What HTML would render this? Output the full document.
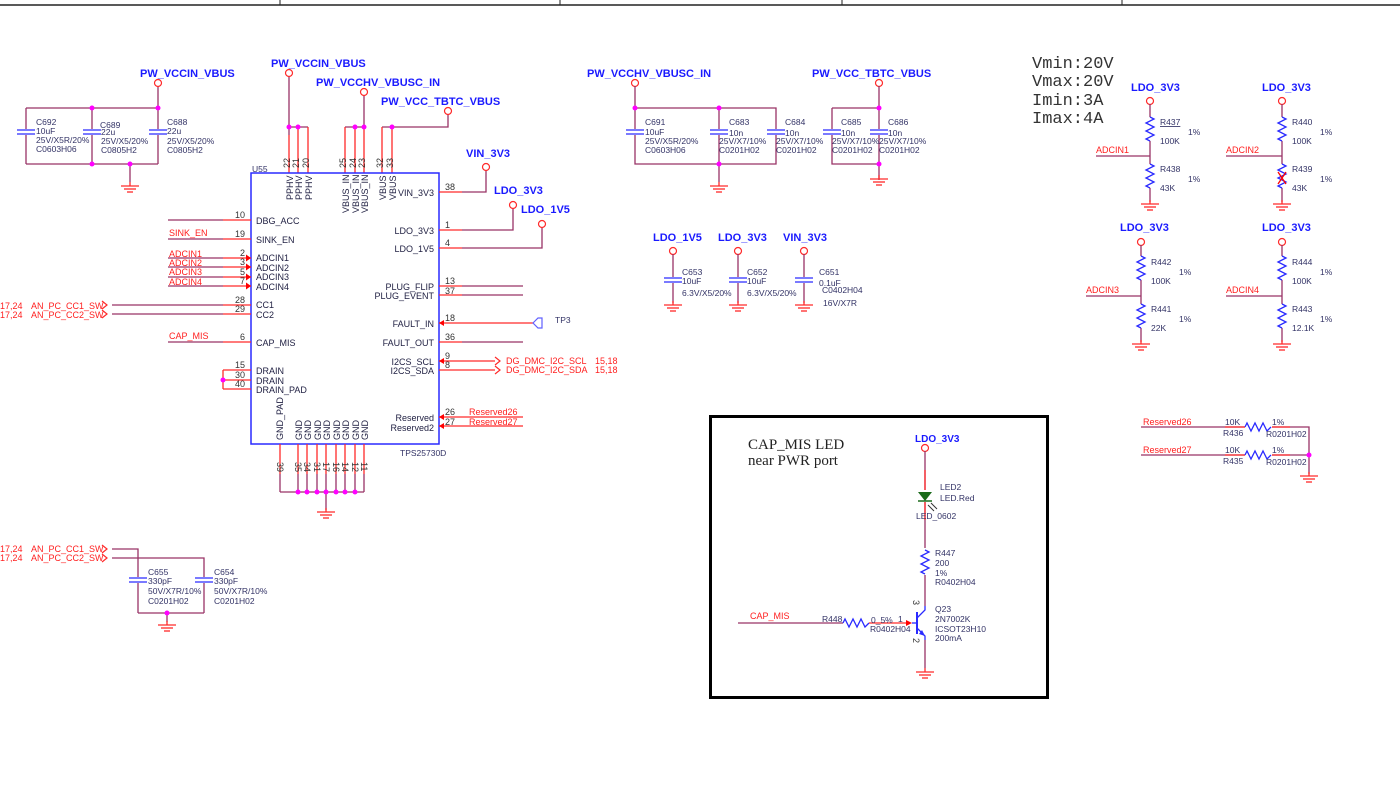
<!DOCTYPE html>
<html><head><meta charset="utf-8"><style>
html,body{margin:0;padding:0;background:#fff;}
svg{display:block;}
text{font-family:"Liberation Sans",sans-serif;}
text.mono{font-family:"Liberation Mono",monospace;font-size:17px;fill:#333;}
text.serif{font-family:"Liberation Serif",serif;font-size:15px;fill:#222;}
.c{font-size:8.5px;fill:#333366;}
.n{font-size:11px;font-weight:bold;fill:#1a1aff;}
.r{font-size:9px;fill:#ff2020;}
.p{font-size:9px;fill:#222244;}
.pn{font-size:9px;fill:#333333;}
.w{stroke:#993366;stroke-width:1.3;fill:none;}
.s{stroke:#ff2a2a;stroke-width:1.3;fill:none;}
.b{stroke:#2a2aff;stroke-width:1.3;fill:none;}
</style></head><body>
<svg width="1400" height="807" viewBox="0 0 1400 807" xmlns="http://www.w3.org/2000/svg">
<defs>
<g id="gnd" class="s"><line x1="0" y1="0" x2="0" y2="4"/><line x1="-9" y1="4" x2="9" y2="4"/><line x1="-6" y1="7" x2="6" y2="7"/><line x1="-3" y1="10" x2="3" y2="10"/></g>
<g id="cap"><rect x="-9" y="-3" width="18" height="6" fill="#fff"/><line x1="-9" y1="-2" x2="9" y2="-2" class="b"/><line x1="-9" y1="2" x2="9" y2="2" class="b"/></g>
<g id="rz"><rect x="-5" y="0" width="10" height="24" fill="#fff"/><polyline class="b" points="0,0 4,2 -4,6 4,10 -4,14 4,18 -4,22 0,24"/></g>
<g id="rh"><rect x="0" y="-5" width="26" height="10" fill="#fff"/><polyline class="b" points="0,0 2,-4 6,4 10,-4 14,4 18,-4 22,4 26,0"/></g>
<circle id="oc" r="3.5" fill="#fff" stroke="#ff2a2a" stroke-width="1.2"/>
<circle id="dt" r="2.5" fill="#ff00ff"/>
<polygon id="ar" points="0,0 -5,-3.5 -5,3.5" fill="#ff0000"/>
<polyline id="chev" points="0,-4 5,0 0,4 M4,-4 9,0 4,4" stroke="#ff2a2a" stroke-width="1.2" fill="none"/>
</defs>

<!-- top border -->
<line x1="0" y1="5" x2="1400" y2="5" stroke="#222" stroke-width="1.5"/>
<g stroke="#222" stroke-width="1"><line x1="280" y1="0" x2="280" y2="5"/><line x1="560" y1="0" x2="560" y2="5"/><line x1="842" y1="0" x2="842" y2="5"/><line x1="1122" y1="0" x2="1122" y2="5"/></g>

<!-- left caps C692/C689/C688 -->
<text x="140" y="77" class="n">PW_VCCIN_VBUS</text>
<path class="w" d="M158 86V108M26 108H158M26 164H158M26 108V164M92 108V164M158 108V164M130 164V182"/>
<use href="#oc" x="158" y="83"/>
<use href="#cap" x="26" y="132"/><use href="#cap" x="92" y="132"/><use href="#cap" x="158" y="132"/>
<use href="#dt" x="92" y="108"/><use href="#dt" x="158" y="108"/><use href="#dt" x="92" y="164"/><use href="#dt" x="130" y="164"/>
<use href="#gnd" x="130" y="182"/>
<text class="c" x="36" y="125">C692</text><text class="c" x="36" y="134">10uF</text><text class="c" x="36" y="143">25V/X5R/20%</text><text class="c" x="36" y="152">C0603H06</text>
<text class="c" x="100" y="128">C689</text><text class="c" x="101" y="135">22u</text><text class="c" x="101" y="144">25V/X5/20%</text><text class="c" x="101" y="153">C0805H2</text>
<text class="c" x="167" y="125">C688</text><text class="c" x="167" y="134">22u</text><text class="c" x="167" y="144">25V/X5/20%</text><text class="c" x="167" y="153">C0805H2</text>

<!-- U55 top nets -->
<text x="271" y="67" class="n">PW_VCCIN_VBUS</text>
<text x="316" y="86" class="n">PW_VCCHV_VBUSC_IN</text>
<text x="381" y="105" class="n">PW_VCC_TBTC_VBUS</text>
<path class="w" d="M289 76V127H308M345 127H364V95M382 127H448V114"/>
<use href="#oc" x="289" y="73"/><use href="#oc" x="364" y="92"/><use href="#oc" x="448" y="111"/>
<path class="s" d="M289 135V173M298 127V173M308 127V173M345 127V173M355 127V173M364 127V173M382 127V173M392 127V173"/>
<path class="w" d="M289 127V135"/>
<use href="#dt" x="289" y="127"/><use href="#dt" x="298" y="127"/><use href="#dt" x="355" y="127"/><use href="#dt" x="364" y="127"/><use href="#dt" x="392" y="127"/>
<g class="pn">
<text transform="translate(290,168) rotate(-90)">22</text><text transform="translate(299,168) rotate(-90)">21</text><text transform="translate(309,168) rotate(-90)">20</text>
<text transform="translate(346,168) rotate(-90)">25</text><text transform="translate(356,168) rotate(-90)">24</text><text transform="translate(365,168) rotate(-90)">23</text>
<text transform="translate(383,168) rotate(-90)">32</text><text transform="translate(393,168) rotate(-90)">33</text>
</g>

<!-- U55 box -->
<rect x="251" y="173" width="188" height="271" fill="none" stroke="#2a2aff" stroke-width="1.5"/>
<text x="252" y="172" class="c">U55</text>
<text x="400" y="456" class="c">TPS25730D</text>
<g class="p">
<text transform="translate(293,200) rotate(-90)">PPHV</text><text transform="translate(302,200) rotate(-90)">PPHV</text><text transform="translate(312,200) rotate(-90)">PPHV</text>
<text transform="translate(349,213) rotate(-90)">VBUS_IN</text><text transform="translate(359,213) rotate(-90)">VBUS_IN</text><text transform="translate(368,213) rotate(-90)">VBUS_IN</text>
<text transform="translate(386,200) rotate(-90)">VBUS</text><text transform="translate(396,200) rotate(-90)">VBUS</text>
<text x="256" y="224">DBG_ACC</text><text x="256" y="243">SINK_EN</text>
<text x="256" y="261">ADCIN1</text><text x="256" y="271">ADCIN2</text><text x="256" y="280">ADCIN3</text><text x="256" y="290">ADCIN4</text>
<text x="256" y="308">CC1</text><text x="256" y="318">CC2</text><text x="256" y="346">CAP_MIS</text>
<text x="256" y="374">DRAIN</text><text x="256" y="384">DRAIN</text><text x="256" y="393">DRAIN_PAD</text>
<text x="434" y="196" text-anchor="end">VIN_3V3</text><text x="434" y="234" text-anchor="end">LDO_3V3</text><text x="434" y="252" text-anchor="end">LDO_1V5</text>
<text x="434" y="290" text-anchor="end">PLUG_FLIP</text><text x="434" y="299" text-anchor="end">PLUG_EVENT</text>
<text x="434" y="327" text-anchor="end">FAULT_IN</text><text x="434" y="346" text-anchor="end">FAULT_OUT</text>
<text x="434" y="365" text-anchor="end">I2CS_SCL</text><text x="434" y="374" text-anchor="end">I2CS_SDA</text>
<text x="434" y="421" text-anchor="end">Reserved</text><text x="434" y="431" text-anchor="end">Reserved2</text>
<text transform="translate(283,440) rotate(-90)">GND_PAD</text>
<text transform="translate(302,440) rotate(-90)">GND</text><text transform="translate(311,440) rotate(-90)">GND</text><text transform="translate(321,440) rotate(-90)">GND</text><text transform="translate(330,440) rotate(-90)">GND</text><text transform="translate(340,440) rotate(-90)">GND</text><text transform="translate(349,440) rotate(-90)">GND</text><text transform="translate(359,440) rotate(-90)">GND</text><text transform="translate(368,440) rotate(-90)">GND</text>
</g>

<!-- left pins -->
<path class="w" d="M168 220H223M168 239H223M168 258H223M168 267H223M168 277H223M168 286H223M112 305H223M112 314H223M168 342H223"/>
<path class="s" d="M223 220H251M223 239H251M223 258H251M223 267H251M223 277H251M223 286H251M223 305H251M223 314H251M223 342H251M223 370H251M223 380H251M223 389H251M223 370V389"/>
<use href="#ar" x="251" y="258"/><use href="#ar" x="251" y="267"/><use href="#ar" x="251" y="277"/><use href="#ar" x="251" y="286"/>
<use href="#dt" x="223" y="380"/>
<g class="pn">
<text x="235" y="218">10</text><text x="235" y="237">19</text><text x="240" y="256">2</text><text x="240" y="265">3</text><text x="240" y="275">5</text><text x="240" y="284">7</text>
<text x="235" y="303">28</text><text x="235" y="312">29</text><text x="240" y="340">6</text><text x="235" y="368">15</text><text x="235" y="378">30</text><text x="235" y="387">40</text>
</g>
<g class="r"><text x="169" y="236">SINK_EN</text><text x="169" y="257">ADCIN1</text><text x="169" y="266">ADCIN2</text><text x="169" y="275">ADCIN3</text><text x="169" y="285">ADCIN4</text><text x="169" y="339">CAP_MIS</text>
<text x="0" y="309">17,24</text><text x="31" y="309">AN_PC_CC1_SW</text><text x="0" y="318">17,24</text><text x="31" y="318">AN_PC_CC2_SW</text></g>
<use href="#chev" x="102" y="305"/><use href="#chev" x="102" y="314"/>

<!-- right pins -->
<path class="s" d="M439 192H462M439 230H462M439 248H462M439 286H462M439 295H462M439 323H533M439 342H462M439 361H495M439 370H495M439 417H523M439 426H523"/>
<path class="w" d="M462 192H486V171M462 230H513V208M462 248H542V227M462 286H523M462 295H523M462 342H523"/>
<use href="#oc" x="486" y="167"/><use href="#oc" x="513" y="205"/><use href="#oc" x="542" y="224"/>
<polygon points="439,323 444,320 444,326" fill="#ff0000"/>
<polygon points="439,361 444,358 444,364" fill="#ff0000"/>
<polygon points="439,417 444,414 444,420" fill="#ff0000"/>
<polygon points="439,426 444,423 444,429" fill="#ff0000"/>
<path d="M533 323L538 318H542V328H538Z" fill="#fff" stroke="#6060ff" stroke-width="1.2"/>
<text x="555" y="323" class="c">TP3</text>
<use href="#chev" x="495" y="361"/><use href="#chev" x="495" y="370"/>
<text x="466" y="157" class="n">VIN_3V3</text><text x="494" y="194" class="n">LDO_3V3</text><text x="521" y="213" class="n">LDO_1V5</text>
<g class="pn"><text x="445" y="190">38</text><text x="445" y="228">1</text><text x="445" y="246">4</text><text x="445" y="284">13</text><text x="445" y="294">37</text><text x="445" y="321">18</text><text x="445" y="340">36</text><text x="445" y="359">9</text><text x="445" y="368">8</text><text x="445" y="415">26</text><text x="445" y="425">27</text></g>
<g class="r"><text x="506" y="364">DG_DMC_I2C_SCL</text><text x="506" y="373">DG_DMC_I2C_SDA</text><text x="595" y="364">15,18</text><text x="595" y="373">15,18</text><text x="469" y="415">Reserved26</text><text x="469" y="425">Reserved27</text></g>

<!-- bottom GND pins -->
<path class="s" d="M280 444V474M298 444V474M307 444V474M317 444V474M326 444V474M336 444V474M345 444V474M355 444V474M364 444V474"/>
<path class="w" d="M280 474V492M298 474V492M307 474V492M317 474V492M326 474V492M336 474V492M345 474V492M355 474V492M364 474V492M280 492H364M326 492V510"/>
<use href="#dt" x="298" y="492"/><use href="#dt" x="307" y="492"/><use href="#dt" x="317" y="492"/><use href="#dt" x="326" y="492"/><use href="#dt" x="336" y="492"/><use href="#dt" x="345" y="492"/><use href="#dt" x="355" y="492"/>
<use href="#gnd" x="326" y="508"/>
<g class="pn"><text transform="translate(277,462) rotate(90)">39</text><text transform="translate(295,462) rotate(90)">35</text><text transform="translate(304,462) rotate(90)">34</text><text transform="translate(314,462) rotate(90)">31</text><text transform="translate(323,462) rotate(90)">17</text><text transform="translate(333,462) rotate(90)">16</text><text transform="translate(342,462) rotate(90)">14</text><text transform="translate(352,462) rotate(90)">12</text><text transform="translate(361,462) rotate(90)">11</text></g>

<!-- bottom-left CC caps -->
<g class="r"><text x="0" y="552">17,24</text><text x="31" y="552">AN_PC_CC1_SW</text><text x="0" y="561">17,24</text><text x="31" y="561">AN_PC_CC2_SW</text></g>
<use href="#chev" x="102" y="549"/><use href="#chev" x="102" y="558"/>
<path class="w" d="M112 549H138V613M112 558H204V613M138 613H204M167 613V622"/>
<use href="#cap" x="138" y="580"/><use href="#cap" x="204" y="580"/>
<use href="#dt" x="167" y="613"/><use href="#gnd" x="167" y="621"/>
<text class="c" x="148" y="575">C655</text><text class="c" x="148" y="584">330pF</text><text class="c" x="148" y="594">50V/X7R/10%</text><text class="c" x="148" y="604">C0201H02</text>
<text class="c" x="214" y="575">C654</text><text class="c" x="214" y="584">330pF</text><text class="c" x="214" y="594">50V/X7R/10%</text><text class="c" x="214" y="604">C0201H02</text>

<!-- C691/C683/C684 -->
<text x="587" y="77" class="n">PW_VCCHV_VBUSC_IN</text>
<use href="#oc" x="635" y="83"/>
<path class="w" d="M635 86V108M635 108H776V164H635ZM719 108V182"/>
<use href="#cap" x="635" y="132"/><use href="#cap" x="719" y="132"/><use href="#cap" x="776" y="132"/>
<use href="#dt" x="635" y="108"/><use href="#dt" x="719" y="108"/><use href="#dt" x="719" y="164"/>
<use href="#gnd" x="719" y="182"/>
<text class="c" x="645" y="125">C691</text><text class="c" x="645" y="135">10uF</text><text class="c" x="645" y="144">25V/X5R/20%</text><text class="c" x="645" y="153">C0603H06</text>
<text class="c" x="729" y="125">C683</text><text class="c" x="729" y="136">10n</text><text class="c" x="719" y="144">25V/X7/10%</text><text class="c" x="719" y="153">C0201H02</text>
<text class="c" x="785" y="125">C684</text><text class="c" x="785" y="136">10n</text><text class="c" x="776" y="144">25V/X7/10%</text><text class="c" x="776" y="153">C0201H02</text>

<!-- C685/C686 -->
<text x="812" y="77" class="n">PW_VCC_TBTC_VBUS</text>
<use href="#oc" x="879" y="83"/>
<path class="w" d="M879 86V108M832 108H879V180M832 108V164H879"/>
<use href="#cap" x="832" y="132"/><use href="#cap" x="879" y="132"/>
<use href="#dt" x="879" y="108"/><use href="#dt" x="879" y="164"/>
<use href="#gnd" x="879" y="175"/>
<text class="c" x="841" y="125">C685</text><text class="c" x="841" y="136">10n</text><text class="c" x="832" y="144">25V/X7/10%</text><text class="c" x="832" y="153">C0201H02</text>
<text class="c" x="888" y="125">C686</text><text class="c" x="888" y="136">10n</text><text class="c" x="879" y="144">25V/X7/10%</text><text class="c" x="879" y="153">C0201H02</text>

<!-- LDO caps -->
<text x="653" y="241" class="n">LDO_1V5</text><text x="718" y="241" class="n">LDO_3V3</text><text x="783" y="241" class="n">VIN_3V3</text>
<use href="#oc" x="673" y="251"/><use href="#oc" x="738" y="251"/><use href="#oc" x="804" y="251"/>
<path class="w" d="M673 254V303M738 254V303M804 254V303"/>
<use href="#cap" x="673" y="280"/><use href="#cap" x="738" y="280"/><use href="#cap" x="804" y="280"/>
<use href="#gnd" x="673" y="301"/><use href="#gnd" x="738" y="301"/><use href="#gnd" x="804" y="301"/>
<text class="c" x="682" y="275">C653</text><text class="c" x="682" y="284">10uF</text><text class="c" x="682" y="296">6.3V/X5/20%</text>
<text class="c" x="747" y="275">C652</text><text class="c" x="747" y="284">10uF</text><text class="c" x="747" y="296">6.3V/X5/20%</text>
<text class="c" x="819" y="275">C651</text><text class="c" x="819" y="286">0.1uF</text><text class="c" x="822" y="293">C0402H04</text><text class="c" x="823" y="306">16V/X7R</text>

<!-- V/I text -->
<text class="mono" x="1032" y="68">Vmin:20V</text><text class="mono" x="1032" y="86">Vmax:20V</text><text class="mono" x="1032" y="105">Imin:3A</text><text class="mono" x="1032" y="123">Imax:4A</text>

<!-- dividers -->
<g>
<text x="1131" y="91" class="n">LDO_3V3</text><use href="#oc" x="1150" y="101"/>
<path class="w" d="M1150 104V202M1096 156H1150"/><use href="#rz" x="1150" y="117"/><use href="#rz" x="1150" y="164"/><use href="#gnd" x="1150" y="200"/>
<text class="r" x="1096" y="153">ADCIN1</text>
<text class="c" x="1160" y="125" text-decoration="underline">R437</text><text class="c" x="1160" y="144">100K</text><text class="c" x="1188" y="135">1%</text>
<text class="c" x="1160" y="172">R438</text><text class="c" x="1160" y="191">43K</text><text class="c" x="1188" y="182">1%</text>

<text x="1262" y="91" class="n">LDO_3V3</text><use href="#oc" x="1282" y="101"/>
<path class="w" d="M1282 104V202M1226 156H1282"/><use href="#rz" x="1282" y="117"/><use href="#rz" x="1282" y="164"/><use href="#gnd" x="1282" y="200"/>
<path d="M1278 172L1286 184M1286 172L1278 184" stroke="#ff0000" stroke-width="1.3"/>
<text class="r" x="1226" y="153">ADCIN2</text>
<text class="c" x="1292" y="125">R440</text><text class="c" x="1292" y="144">100K</text><text class="c" x="1320" y="135">1%</text>
<text class="c" x="1292" y="172">R439</text><text class="c" x="1292" y="191">43K</text><text class="c" x="1320" y="182">1%</text>

<text x="1120" y="231" class="n">LDO_3V3</text><use href="#oc" x="1141" y="242"/>
<path class="w" d="M1141 245V342M1086 296H1141"/><use href="#rz" x="1141" y="256"/><use href="#rz" x="1141" y="304"/><use href="#gnd" x="1141" y="340"/>
<text class="r" x="1086" y="293">ADCIN3</text>
<text class="c" x="1151" y="265">R442</text><text class="c" x="1151" y="284">100K</text><text class="c" x="1179" y="275">1%</text>
<text class="c" x="1151" y="312">R441</text><text class="c" x="1151" y="331">22K</text><text class="c" x="1179" y="322">1%</text>

<text x="1262" y="231" class="n">LDO_3V3</text><use href="#oc" x="1282" y="242"/>
<path class="w" d="M1282 245V342M1226 296H1282"/><use href="#rz" x="1282" y="256"/><use href="#rz" x="1282" y="304"/><use href="#gnd" x="1282" y="340"/>
<text class="r" x="1226" y="293">ADCIN4</text>
<text class="c" x="1292" y="265">R444</text><text class="c" x="1292" y="284">100K</text><text class="c" x="1320" y="275">1%</text>
<text class="c" x="1292" y="312">R443</text><text class="c" x="1292" y="331">12.1K</text><text class="c" x="1320" y="322">1%</text>
</g>

<!-- reserved resistors -->
<path class="w" d="M1141 427H1245M1141 455H1245M1272 427H1309V474M1272 455H1309"/>
<path class="s" d="M1225 427H1245M1225 455H1245M1272 427H1290M1272 455H1290"/>
<use href="#rh" x="1245" y="427"/><use href="#rh" x="1245" y="455"/>
<use href="#dt" x="1309" y="455"/><use href="#gnd" x="1309" y="472"/>
<text class="r" x="1143" y="425">Reserved26</text><text class="r" x="1143" y="453">Reserved27</text>
<text class="c" x="1225" y="425">10K</text><text class="c" x="1223" y="436">R436</text><text class="c" x="1272" y="425">1%</text><text class="c" x="1266" y="437">R0201H02</text>
<text class="c" x="1225" y="453">10K</text><text class="c" x="1223" y="464">R435</text><text class="c" x="1272" y="453">1%</text><text class="c" x="1266" y="465">R0201H02</text>

<!-- CAP_MIS LED box -->
<rect x="710.5" y="416.5" width="337" height="281" fill="none" stroke="#000" stroke-width="3"/>
<text class="serif" x="748" y="449">CAP_MIS LED</text><text class="serif" x="748" y="465">near PWR port</text>
<text x="915" y="442" class="n" style="font-size:10px">LDO_3V3</text>
<use href="#oc" x="925" y="448"/>
<path class="w" d="M925 451V490M925 502V548M925 575V606M925 640V668"/>
<path class="s" d="M925 470V490M925 502V520"/>
<polygon points="918,492 932,492 925,501" fill="#1a6b1a"/><line x1="918" y1="501" x2="932" y2="501" stroke="#1a6b1a" stroke-width="1.5"/>
<path d="M928 505L934 511M931 503L937 509" stroke="#333" stroke-width="1"/>
<use href="#rz" x="925" y="550"/>
<text class="c" x="940" y="490">LED2</text><text class="c" x="940" y="501">LED.Red</text><text class="c" x="916" y="519">LED_0602</text>
<text class="c" x="935" y="556">R447</text><text class="c" x="935" y="566">200</text><text class="c" x="935" y="576">1%</text><text class="c" x="935" y="585">R0402H04</text>
<!-- transistor -->
<line x1="917" y1="612" x2="917" y2="634" stroke="#2a2aff" stroke-width="2"/>
<path class="b" d="M917 618L925 610V606M917 628L925 636V640"/>
<polygon points="925,636 919,634 922,630" fill="#2a2aff"/>
<path class="w" d="M738 623H843"/><use href="#rh" x="843" y="623"/>
<path class="s" d="M869 623H908"/><polygon points="912,623 906,620 906,626" fill="#ff0000"/>
<line x1="912" y1="623" x2="917" y2="623" stroke="#2a2aff" stroke-width="1.3"/>
<use href="#gnd" x="925" y="668"/>
<text class="r" x="750" y="619">CAP_MIS</text>
<text class="c" x="822" y="622">R448</text><text class="c" x="871" y="623">0_5%</text><text class="c" x="898" y="622">1</text><text class="c" x="870" y="632">R0402H04</text>
<text class="c" x="935" y="612">Q23</text><text class="c" x="935" y="622">2N7002K</text><text class="c" x="935" y="632">ICSOT23H10</text><text class="c" x="935" y="641">200mA</text>
<text class="pn" transform="translate(913,600) rotate(90)">3</text><text class="pn" transform="translate(913,638) rotate(90)">2</text>
</svg>
</body></html>
